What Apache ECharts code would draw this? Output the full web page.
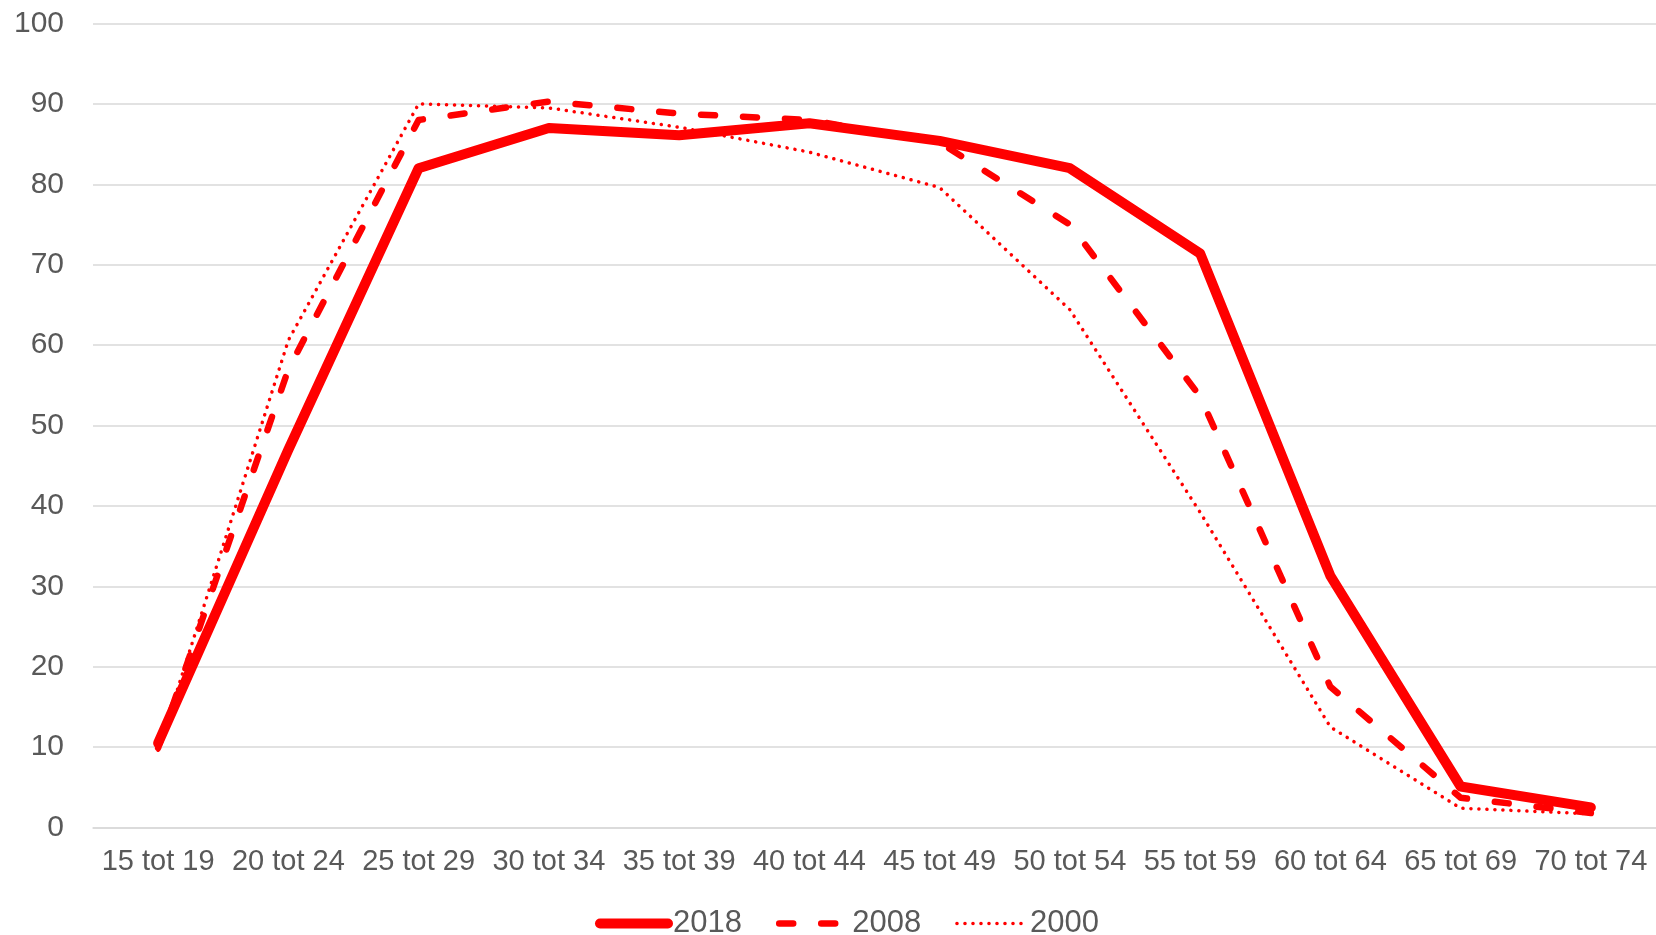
<!DOCTYPE html>
<html>
<head>
<meta charset="utf-8">
<script src="https://cdn.jsdelivr.net/npm/echarts@6/dist/echarts.min.js"></script>
<style>
  html, body { margin: 0; padding: 0; background: #fff; }
  #chart { width: 1656px; height: 935px; }
</style>
</head>
<body>
<div id="chart"></div>
<script>
const categories = ['15 tot 19', '20 tot 24', '25 tot 29', '30 tot 34', '35 tot 39', '40 tot 44',
  '45 tot 49', '50 tot 54', '55 tot 59', '60 tot 64', '65 tot 69', '70 tot 74'];
const values2018 = [10.5, 47, 82, 87, 86.1, 87.6, 85.4, 82, 71.4, 31.3, 5.1, 2.5];
const values2008 = [9.9, 57, 88, 90.3, 88.8, 88, 85.2, 75, 53.6, 17.5, 3.7, 1.8];
const values2000 = [9.6, 60.6, 90, 89.5, 87.1, 84, 79.6, 64.4, 39.2, 12.5, 2.4, 1.7];

const red = '#ff0000';
const font = 'Liberation Sans, Arial, sans-serif';
const textColor = '#595959';

const styles = {
  '2018': { color: red, width: 10, type: 'solid', cap: 'round', join: 'round' },
  '2008': { color: red, width: 6.5, type: [14, 28], cap: 'round', join: 'round' },
  '2000': { color: red, width: 3.5, type: [0.1, 7.9], cap: 'round', join: 'round' }
};

function makeSeries(name, data) {
  return {
    name: name,
    type: 'line',
    data: data,
    symbol: 'none',
    color: red,
    lineStyle: styles[name],
    emphasis: { disabled: true }
  };
}

const chart = echarts.init(document.getElementById('chart'));
chart.setOption({
  animation: false,
  backgroundColor: '#fff',
  grid: { left: 93, right: 0, top: 23.5, bottom: 107.5, containLabel: false },
  xAxis: {
    type: 'category',
    data: categories,
    boundaryGap: true,
    axisLine: { lineStyle: { color: '#d9d9d9', width: 1.5 } },
    axisTick: { show: false },
    axisLabel: { color: textColor, fontSize: 29, fontFamily: font, margin: 20, interval: 0 }
  },
  yAxis: {
    type: 'value',
    min: 0,
    max: 100,
    interval: 10,
    axisLine: { show: false },
    axisTick: { show: false },
    splitLine: { lineStyle: { color: '#d9d9d9', width: 1.5 } },
    axisLabel: { color: textColor, fontSize: 30, fontFamily: font, margin: 29 }
  },
  legend: {
    left: 590,
    top: 903,
    itemWidth: 68,
    itemHeight: 14,
    itemGap: 34,
    itemStyle: { color: 'transparent', borderWidth: 0, opacity: 0 },
    textStyle: { color: textColor, fontSize: 31, fontFamily: font },
    data: ['2018', '2008', '2000'].map(n => ({ name: n, lineStyle: styles[n] }))
  },
  series: [
    makeSeries('2018', values2018),
    makeSeries('2008', values2008),
    makeSeries('2000', values2000)
  ]
});
</script>
</body>
</html>
